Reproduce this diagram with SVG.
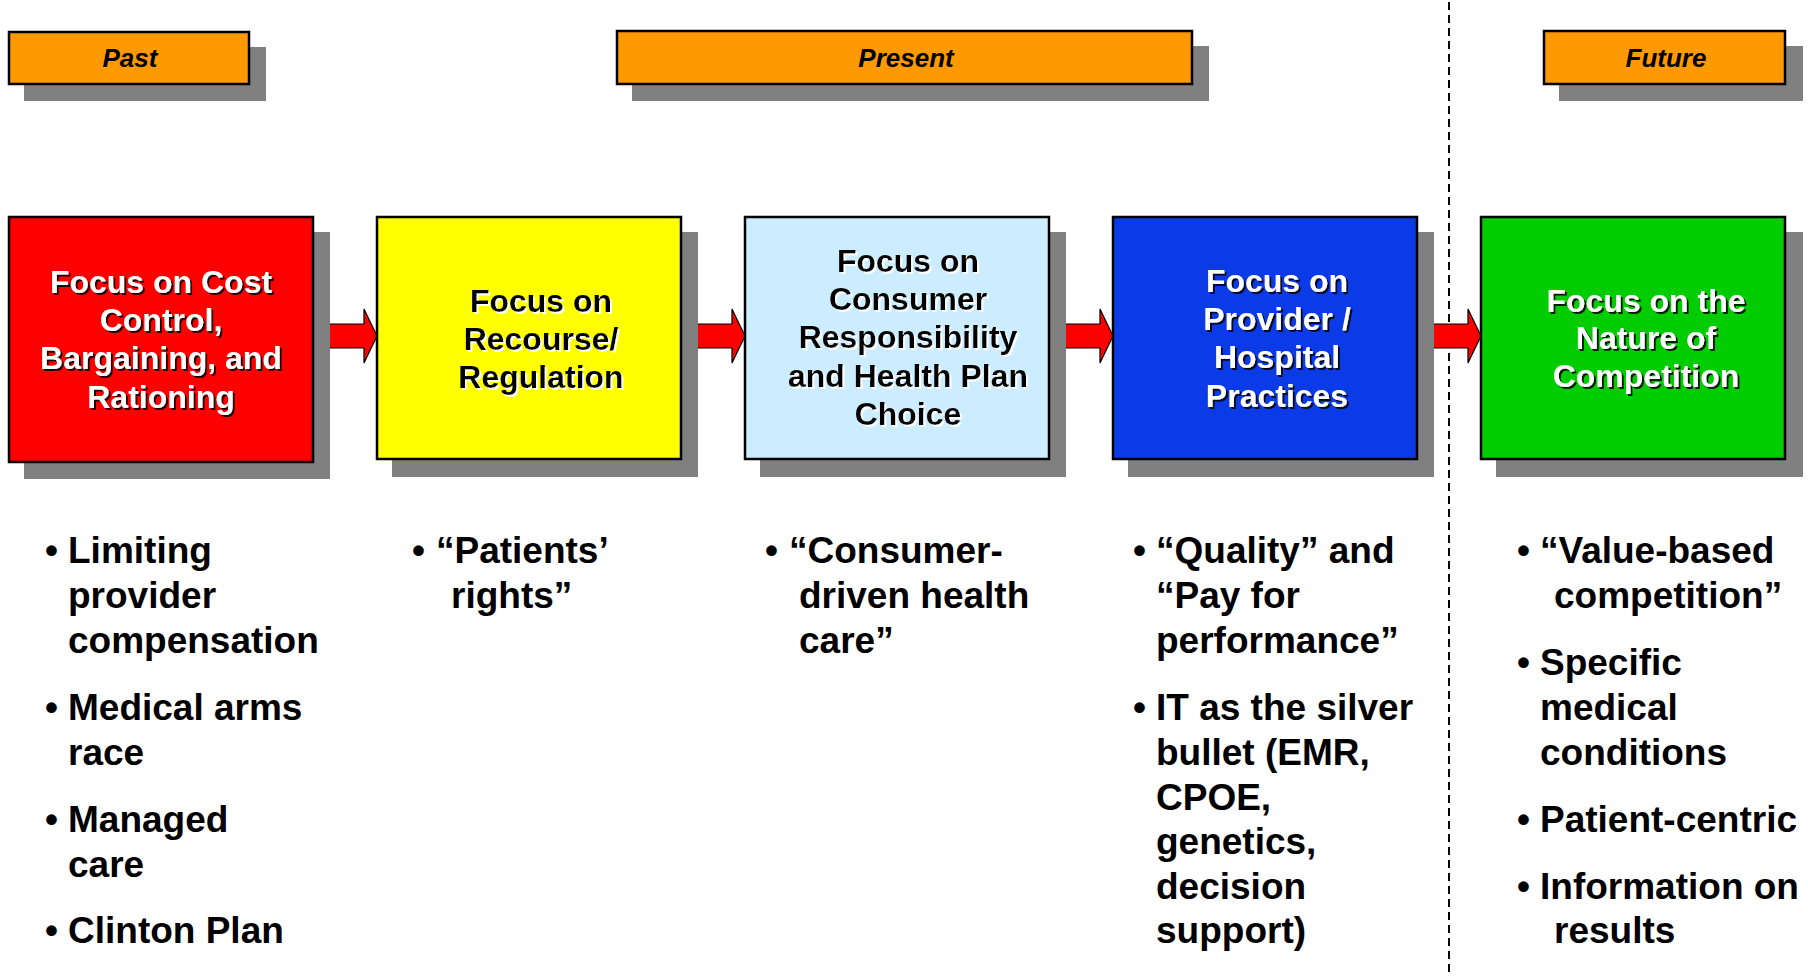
<svg xmlns="http://www.w3.org/2000/svg" width="1808" height="977" viewBox="0 0 1808 977">
<style>
.sh{fill:#808080}
.hdr{fill:#FF9900;stroke:#000;stroke-width:2.5}
.box{stroke:#000;stroke-width:2.5}
.ht{font-family:"Liberation Sans",Arial,sans-serif;font-weight:bold;font-style:italic;font-size:26px;fill:#000;text-anchor:middle}
.bt{font-family:"Liberation Sans",Arial,sans-serif;font-weight:bold;font-size:32px;text-anchor:middle}
.w{fill:#fff;filter:url(#dk)}
.k{fill:#000;filter:url(#lt)}
.bl{font-family:"Liberation Sans",Arial,sans-serif;font-weight:bold;font-size:37px;fill:#000}
.arr{fill:#FF0000;stroke:#000;stroke-width:1.2}
</style>
<defs>
<filter id="dk" x="-10%" y="-20%" width="120%" height="150%"><feDropShadow dx="2" dy="2" stdDeviation="0.6" flood-color="#000" flood-opacity="0.85"/></filter>
<filter id="lt" x="-10%" y="-20%" width="120%" height="150%"><feDropShadow dx="2" dy="2" stdDeviation="0.6" flood-color="#fff" flood-opacity="0.95"/></filter>
</defs>
<rect width="1808" height="977" fill="#fff"/>

<g id="hdr-past">
<rect class="sh" x="24" y="47" width="242" height="54"/>
<rect class="hdr" x="9" y="32" width="240" height="52"/>
<text class="ht" x="130" y="67">Past</text>
</g>
<g id="hdr-present">
<rect class="sh" x="632" y="46" width="577" height="55"/>
<rect class="hdr" x="617" y="31" width="575" height="53"/>
<text class="ht" x="906" y="67">Present</text>
</g>
<g id="hdr-future">
<rect class="sh" x="1559" y="46" width="244" height="55"/>
<rect class="hdr" x="1544" y="31" width="241" height="53"/>
<text class="ht" x="1666" y="67">Future</text>
</g>

<line id="divider" x1="1449" y1="2" x2="1449" y2="977" stroke="#000" stroke-width="2" stroke-dasharray="8 5"/>

<g id="connectors">
<path class="arr" d="M329,324 H364 V309 L377,336 L364,363 V348 H329 Z"/>
<path class="arr" d="M697,324 H732 V309 L745,336 L732,363 V348 H697 Z"/>
<path class="arr" d="M1065,324 H1100 V309 L1113,336 L1100,363 V348 H1065 Z"/>
<path class="arr" d="M1433,324 H1468 V309 L1481,336 L1468,363 V348 H1433 Z"/>
</g>

<g id="node-cost">
<rect class="sh" x="24" y="232" width="306" height="247"/>
<rect class="box" x="9" y="217" width="304" height="245" fill="#FF0000"/>
<text class="bt w"><tspan x="161" y="293">Focus on Cost</tspan><tspan x="161" y="331">Control,</tspan><tspan x="161" y="369">Bargaining, and</tspan><tspan x="161" y="408">Rationing</tspan></text>
</g>
<g id="node-recourse">
<rect class="sh" x="392" y="232" width="306" height="245"/>
<rect class="box" x="377" y="217" width="304" height="242" fill="#FFFF00"/>
<text class="bt k"><tspan x="541" y="312">Focus on</tspan><tspan x="541" y="350">Recourse/</tspan><tspan x="541" y="388">Regulation</tspan></text>
</g>
<g id="node-consumer">
<rect class="sh" x="760" y="232" width="306" height="245"/>
<rect class="box" x="745" y="217" width="304" height="242" fill="#CCECFF"/>
<text class="bt k"><tspan x="908" y="272">Focus on</tspan><tspan x="908" y="310">Consumer</tspan><tspan x="908" y="348">Responsibility</tspan><tspan x="908" y="387">and Health Plan</tspan><tspan x="908" y="425">Choice</tspan></text>
</g>
<g id="node-provider">
<rect class="sh" x="1128" y="232" width="306" height="245"/>
<rect class="box" x="1113" y="217" width="304" height="242" fill="#0B3BE6"/>
<text class="bt w"><tspan x="1277" y="292">Focus on</tspan><tspan x="1277" y="330">Provider /</tspan><tspan x="1277" y="368">Hospital</tspan><tspan x="1277" y="407">Practices</tspan></text>
</g>
<g id="node-competition">
<rect class="sh" x="1496" y="232" width="307" height="245"/>
<rect class="box" x="1481" y="217" width="304" height="242" fill="#00CC00"/>
<text class="bt w"><tspan x="1646" y="312">Focus on the</tspan><tspan x="1646" y="349">Nature of</tspan><tspan x="1646" y="387">Competition</tspan></text>
</g>

<g id="bullets-past" class="bl">
<text x="45" y="563">•</text>
<text x="68" y="563">Limiting</text>
<text x="68" y="608">provider</text>
<text x="68" y="653">compensation</text>
<text x="45" y="720">•</text>
<text x="68" y="720">Medical arms</text>
<text x="68" y="765">race</text>
<text x="45" y="832">•</text>
<text x="68" y="832">Managed</text>
<text x="68" y="877">care</text>
<text x="45" y="943">•</text>
<text x="68" y="943">Clinton Plan</text>
</g>
<g id="bullets-recourse" class="bl">
<text x="412" y="563">•</text>
<text x="436" y="563">“Patients’</text>
<text x="451" y="608">rights”</text>
</g>
<g id="bullets-consumer" class="bl">
<text x="765" y="563">•</text>
<text x="789" y="563">“Consumer-</text>
<text x="799" y="608">driven health</text>
<text x="799" y="653">care”</text>
</g>
<g id="bullets-provider" class="bl">
<text x="1133" y="563">•</text>
<text x="1156" y="563">“Quality” and</text>
<text x="1156" y="608">“Pay for</text>
<text x="1156" y="653">performance”</text>
<text x="1133" y="720">•</text>
<text x="1156" y="720">IT as the silver</text>
<text x="1156" y="765">bullet (EMR,</text>
<text x="1156" y="810">CPOE,</text>
<text x="1156" y="854">genetics,</text>
<text x="1156" y="899">decision</text>
<text x="1156" y="943">support)</text>
</g>
<g id="bullets-competition" class="bl">
<text x="1517" y="563">•</text>
<text x="1540" y="563">“Value-based</text>
<text x="1554" y="608">competition”</text>
<text x="1517" y="675">•</text>
<text x="1540" y="675">Specific</text>
<text x="1540" y="720">medical</text>
<text x="1540" y="765">conditions</text>
<text x="1517" y="832">•</text>
<text x="1540" y="832">Patient-centric</text>
<text x="1517" y="899">•</text>
<text x="1540" y="899">Information on</text>
<text x="1554" y="943">results</text>
</g>
</svg>
